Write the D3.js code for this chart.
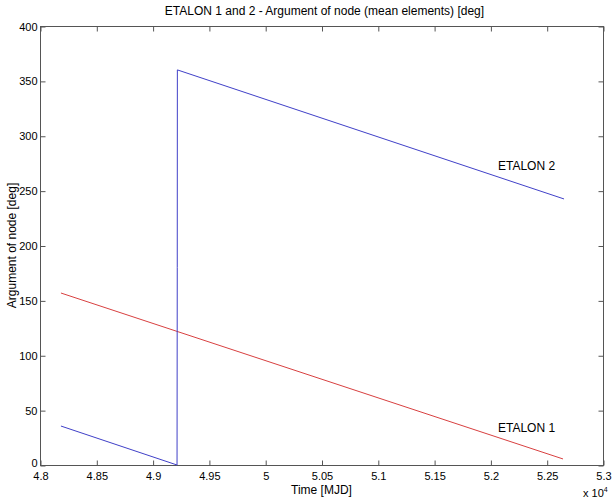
<!DOCTYPE html>
<html>
<head>
<meta charset="utf-8">
<script src="https://cdn.jsdelivr.net/npm/d3@7/dist/d3.min.js"></script>
<style>
  body { margin: 0; background: #fff; }
  svg { display: block; font-family: "Liberation Sans", Arial, Helvetica, sans-serif; }
</style>
</head>
<body>
<svg id="chart" width="613" height="500"></svg>
<script>
// ---- data (MJD, degrees) ----
const etalon1Time  = [48186, 52645];
const etalon1Value = [156.7, 5.5];
const etalon2Time  = [48186, 49217, 49219, 49220, 52654];
const etalon2Value = [35.5, 0, 180, 360, 242.4];
const xTicks = [48000, 48500, 49000, 49500, 50000, 50500, 51000, 51500, 52000, 52500, 53000];
const xTickLabels = ["4.8", "4.85", "4.9", "4.95", "5", "5.05", "5.1", "5.15", "5.2", "5.25", "5.3"];
const yTicks = [0, 50, 100, 150, 200, 250, 300, 350, 400];
const titleText = "ETALON 1 and 2 - Argument of node (mean elements) [deg]";
const xLabelText = "Time [MJD]";
const yLabelText = "Argument of node [deg]";
const seriesLabels = ["ETALON 1", "ETALON 2"];

const svg = d3.select("#chart");
const L = 40, R = 603, T = 26, B = 465;
const x = d3.scaleLinear().domain([48000, 53000]).range([L, R]);
const y = d3.scaleLinear().domain([0, 400]).range([B, T]);

const frameColor = "#555";
const tickLen = 5;

// frame
svg.append("rect").attr("x", L + 0.5).attr("y", T + 0.5)
  .attr("width", R - L).attr("height", B - T)
  .attr("fill", "none").attr("stroke", frameColor).attr("stroke-width", 1);

// axes (inward ticks)
const fmtX = (d, i) => xTickLabels[i];
const bottomAxis = d3.axisBottom(x).tickValues(xTicks).tickFormat(fmtX).tickSizeInner(-tickLen).tickSizeOuter(0).tickPadding(7);
const topAxis = d3.axisTop(x).tickValues(xTicks).tickFormat("").tickSizeInner(-tickLen).tickSizeOuter(0);
const leftAxis = d3.axisLeft(y).tickValues(yTicks).tickFormat(d3.format("d")).tickSizeInner(-tickLen).tickSizeOuter(0).tickPadding(3);
const rightAxis = d3.axisRight(y).tickValues(yTicks).tickFormat("").tickSizeInner(-tickLen).tickSizeOuter(0);

function styleAxis(g) {
  g.select(".domain").remove();
  g.selectAll(".tick line").attr("stroke", frameColor);
  g.selectAll(".tick text").attr("fill", "#000").style("font-size", "11px")
    .style("font-family", "'Liberation Sans', Arial, Helvetica, sans-serif");
}
svg.append("g").attr("transform", `translate(0.5,${B + 0.5})`).call(bottomAxis).call(styleAxis);
svg.append("g").attr("transform", `translate(0.5,${T + 0.5})`).call(topAxis).call(styleAxis);
const gl = svg.append("g").attr("transform", `translate(${L + 0.5},0.5)`).call(leftAxis).call(styleAxis);
// nudge the bottom "0" label up slightly, as in the reference
gl.selectAll(".tick text").filter(d => d === 0).attr("dy", "0.1em");
svg.append("g").attr("transform", `translate(${R + 0.5},0.5)`).call(rightAxis).call(styleAxis);

// lines
const line = d3.line().x(d => x(d[0])).y(d => y(d[1]));
const e1 = etalon1Time.map((t, i) => [t, etalon1Value[i]]);
const e2 = etalon2Time.map((t, i) => [t, etalon2Value[i]]);
svg.append("path").datum(e1).attr("d", line).attr("fill", "none")
  .attr("stroke", "#d84040").attr("stroke-width", 1);
svg.append("path").datum(e2).attr("d", line).attr("fill", "none")
  .attr("stroke", "#4040c8").attr("stroke-width", 1);

// series labels
svg.append("text").attr("x", 498).attr("y", 432).text(seriesLabels[0])
  .style("font-size", "12px").attr("fill", "#000");
svg.append("text").attr("x", 498).attr("y", 170).text(seriesLabels[1])
  .style("font-size", "12px").attr("fill", "#000");

// title
svg.append("text").attr("x", (L + R) / 2 + 3).attr("y", 15).attr("text-anchor", "middle")
  .style("font-size", "12px").attr("fill", "#000").text(titleText);

// x label
svg.append("text").attr("x", (L + R) / 2).attr("y", 494).attr("text-anchor", "middle")
  .style("font-size", "12px").attr("fill", "#000").text(xLabelText);

// y label
svg.append("text").attr("transform", `translate(16,${(T + B) / 2}) rotate(-90)`)
  .attr("text-anchor", "middle").style("font-size", "12px").attr("fill", "#000").text(yLabelText);

// exponent
const ex = svg.append("text").attr("x", 583).attr("y", 497).style("font-size", "11px").attr("fill", "#000");
ex.append("tspan").text("x 10");
ex.append("tspan").attr("dy", -5).style("font-size", "7px").text("4");
</script>
</body>
</html>
